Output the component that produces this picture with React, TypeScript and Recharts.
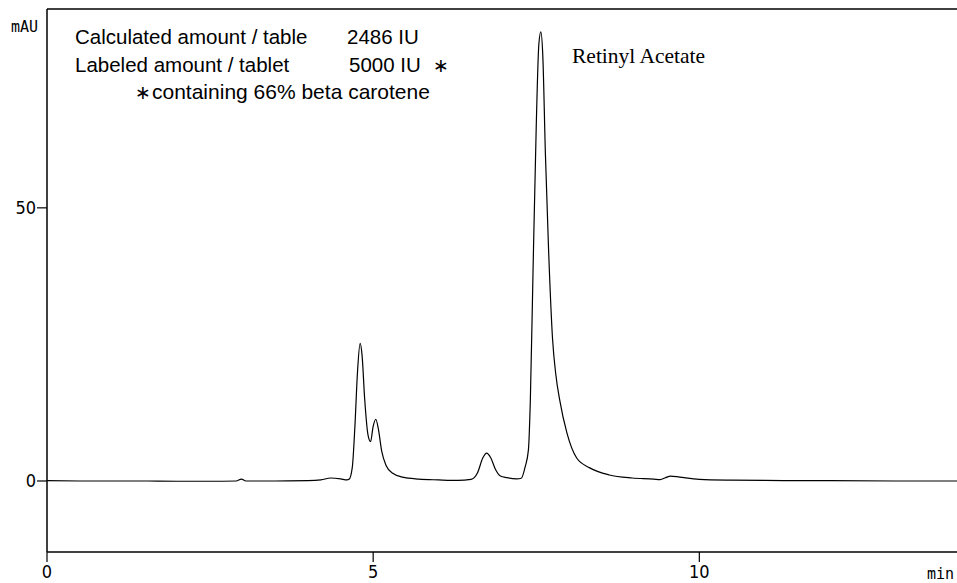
import { ComposedChart, Line, XAxis, YAxis, ReferenceLine } from "recharts";

// retention time (min) and detector response (mAU)
const times = [
  0, 0.5, 1.0, 1.5, 2.0, 2.5, 2.9, 2.98, 3.05, 3.5, 4.0, 4.2, 4.35, 4.5, 4.6,
  4.63, 4.68, 4.72, 4.76, 4.8, 4.83, 4.87, 4.92, 4.96, 5.0, 5.04, 5.08, 5.13,
  5.2, 5.3, 5.45, 5.7, 6.0, 6.3, 6.5, 6.6, 6.68, 6.74, 6.8, 6.88, 6.95, 7.05,
  7.2, 7.27, 7.33, 7.38, 7.41, 7.45, 7.5, 7.54, 7.57, 7.6, 7.64, 7.69, 7.75,
  7.8, 7.86, 7.97, 8.12, 8.32, 8.62, 8.97, 9.3, 9.4, 9.48, 9.56, 9.7, 10.0,
  10.5, 11, 12, 13, 13.95,
];
const absorbance = [
  0.05, 0, 0, 0, -0.05, -0.05, 0, 0.35, 0, 0, 0.05, 0.2, 0.55, 0.4, 0.2,
  0.3, 2.5, 10, 20, 25.2, 23, 15, 8.5, 7.2, 10, 11.3, 9.5, 5.5,
  2.8, 1.4, 0.7, 0.35, 0.2, 0.1, 0.3, 1.5, 4.2, 5.1, 4.3, 2, 0.9, 0.6,
  0.4, 0.5, 2.6, 5.7, 15, 38, 65, 80, 82.2, 78, 60, 42, 26,
  19.5, 14.8, 8.8, 4.2, 2.4, 1.1, 0.55, 0.35, 0.25, 0.6, 0.9, 0.7, 0.3,
  0.15, 0.1, 0.05, 0, 0,
];
const xTicks = [0, 5, 10];
const yTicks = [0, 50];
const notes = [
  ["Calculated amount / table", "2486 IU"],
  ["Labeled amount / tablet", "5000 IU"],
];
const footnote = "containing 66% beta carotene";
const peakName = "Retinyl Acetate";

const data = times.map((t, i) => ({ t, mAU: absorbance[i] }));

const tickFont = "'DejaVu Sans Condensed', 'Liberation Sans Narrow', 'DejaVu Sans', sans-serif";
const unitFont = "'DejaVu Sans Mono', monospace";
const tickStyle = {
  fontSize: 18,
  fill: "#000",
  fontFamily: tickFont,
  fontStretch: "condensed",
};

export default function App() {
  return (
    <div style={{ position: "relative", width: 957, height: 583 }}>
      <style>{"body{margin:0}"}</style>
      <ComposedChart
        width={957}
        height={583}
        data={data}
        margin={{ top: 9, right: 0, bottom: 0, left: 0 }}
      >
        <XAxis
          dataKey="t"
          type="number"
          domain={[0, 13.95]}
          ticks={xTicks}
          height={31}
          tickSize={10}
          tickMargin={3}
          axisLine={{ stroke: "#000", strokeWidth: 1.5 }}
          tickLine={{ stroke: "#000", strokeWidth: 1.2 }}
          tick={tickStyle}
        />
        <YAxis
          type="number"
          domain={[-13, 86.4]}
          ticks={yTicks}
          width={47}
          tickSize={10}
          tickMargin={1}
          axisLine={{ stroke: "#000", strokeWidth: 1.5 }}
          tickLine={{ stroke: "#000", strokeWidth: 1.2 }}
          tick={tickStyle}
        />
        <ReferenceLine y={86.4} stroke="#000" strokeWidth={1.5} />
        <Line
          dataKey="mAU"
          type="monotone"
          stroke="#000"
          strokeWidth={1.2}
          dot={false}
          isAnimationActive={false}
        />
      </ComposedChart>
      <svg
        width={957}
        height={583}
        style={{ position: "absolute", left: 0, top: 0, pointerEvents: "none" }}
      >
        <text x={11} y={32} fontSize={15} fontFamily={unitFont}>mAU</text>
        <text x={927} y={579} fontSize={15} fontFamily={unitFont}>min</text>
        <g fontFamily="'Liberation Sans', Arial, sans-serif" fontSize={20.5}>
          <text x={75} y={44}>{notes[0][0]}</text>
          <text x={347} y={44}>{notes[0][1]}</text>
          <text x={75} y={72}>{notes[1][0]}</text>
          <text x={349} y={72}>{notes[1][1]}</text>
          <text x={433} y={72} fontSize={19} fontFamily="'DejaVu Sans', sans-serif">∗</text>
          <text x={135} y={99} fontSize={19} fontFamily="'DejaVu Sans', sans-serif">∗</text>
          <text x={152} y={99} fontSize={21}>{footnote}</text>
        </g>
        <text x={572} y={63} fontSize={21.5} fontFamily="'Liberation Serif', 'Times New Roman', serif">
          {peakName}
        </text>
      </svg>
    </div>
  );
}
